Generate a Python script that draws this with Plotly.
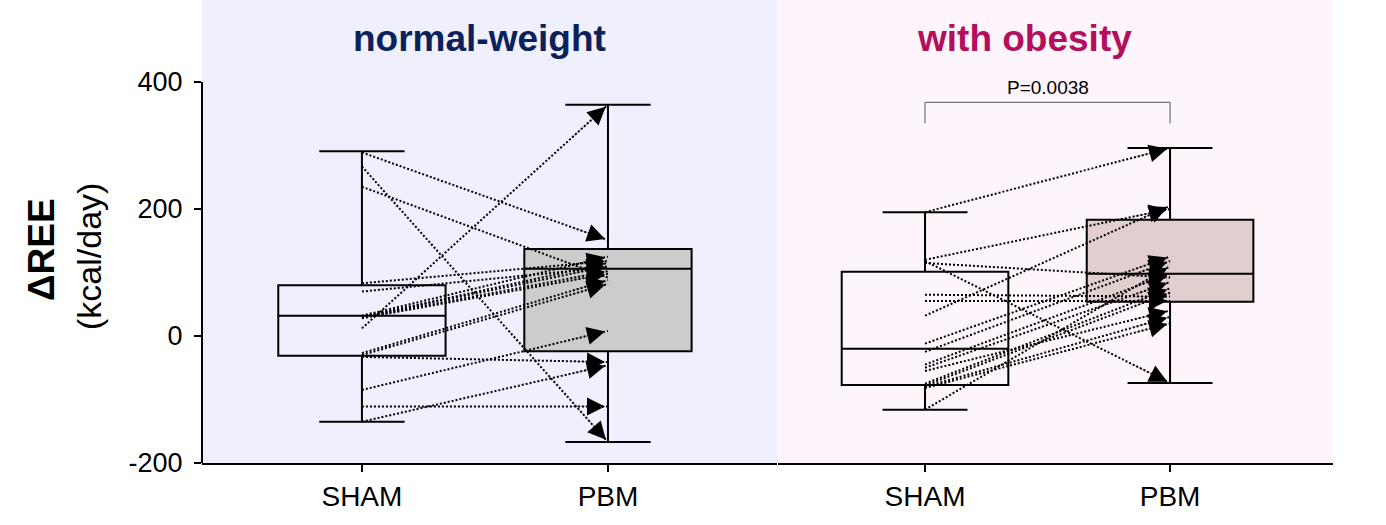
import plotly.graph_objects as go
from plotly.subplots import make_subplots

groups = ["SHAM", "PBM"]
panel_titles = ["normal-weight", "with obesity"]
title_colors = ["#0B2159", "#B3105C"]

# paired individual values (kcal/day): SHAM -> PBM
nw_sham = [289, 267, 235, 83, 70, 32, 30, 30, 29, 28, 12, -27, -30, -33, -85, -111, -135]
nw_pbm = [151, -167, 92, 118, 108, 125, 115, 110, 102, 98, 364, 88, 82, -41, 8, -111, -46]

ob_sham = [195, 120, 118, 115, 65, 55, 32, -12, -25, -45, -50, -55, -75, -78, -80, -82, -116]
ob_pbm = [296, 200, -74, 92, 62, 55, 205, 125, 118, 98, 85, 40, 75, 68, 30, 20, 110]

# box summaries [SHAM, PBM]
nw_q1 = [-31, -24]
nw_med = [32, 106]
nw_q3 = [80, 137]
nw_lo = [-135, -167]
nw_hi = [291, 364]

ob_q1 = [-77, 54]
ob_med = [-20, 98]
ob_q3 = [101, 183]
ob_lo = [-116, -74]
ob_hi = [195, 296]

p_text = "P=0.0038"
bracket_top = 368
bracket_foot = 335

y_ticks = [-200, 0, 200, 400]
y_tick_labels = ["-200", "0", "200", "400"]

FONT = "Liberation Sans, Arial, sans-serif"
W, H = 1386, 525
ML, MR, MT, MB = 202, 53, 0, 62
PW = W - ML - MR
PH = H - MT - MB

fig = make_subplots(rows=1, cols=2)

box_fills = [["rgba(0,0,0,0)", "#CCCCCC"], ["rgba(0,0,0,0)", "#E1CECE"]]
stats = [
    (nw_q1, nw_med, nw_q3, nw_lo, nw_hi),
    (ob_q1, ob_med, ob_q3, ob_lo, ob_hi),
]
pairs = [(nw_sham, nw_pbm), (ob_sham, ob_pbm)]

for c in range(2):
    q1, med, q3, lo, hi = stats[c]
    for g in range(2):
        fig.add_trace(
            go.Box(
                x=[g], q1=[q1[g]], median=[med[g]], q3=[q3[g]],
                lowerfence=[lo[g]], upperfence=[hi[g]],
                width=0.68, whiskerwidth=0.51,
                line=dict(color="black", width=2),
                fillcolor=box_fills[c][g],
                boxpoints=False, showlegend=False, hoverinfo="skip",
            ),
            row=1, col=c + 1,
        )
    sham, pbm = pairs[c]
    xs, ys = [], []
    for s, p in zip(sham, pbm):
        xs += [0, 1, None]
        ys += [s, p, None]
    fig.add_trace(
        go.Scatter(
            x=xs, y=ys, mode="lines",
            line=dict(color="black", width=2, dash="2px,2px"),
            showlegend=False, hoverinfo="skip",
        ),
        row=1, col=c + 1,
    )
    xr = "x" if c == 0 else "x2"
    yr = "y" if c == 0 else "y2"
    t = 0.85
    for s, p in zip(sham, pbm):
        fig.add_annotation(
            x=1, y=p, ax=t, ay=s + (p - s) * t,
            xref=xr, yref=yr, axref=xr, ayref=yr,
            text="", showarrow=True, arrowhead=2, arrowsize=12,
            arrowwidth=0.3, arrowcolor="black", standoff=3,
        )

# panel backgrounds
fig.add_shape(type="rect", xref="x domain", yref="y domain", x0=0, x1=1, y0=0, y1=1,
              fillcolor="#EFEFFD", line_width=0, layer="below")
fig.add_shape(type="rect", xref="x2 domain", yref="y2 domain", x0=0, x1=1, y0=0, y1=1,
              fillcolor="#FEF4FC", line_width=0, layer="below")

# y axis line (only over tick range)
fig.add_shape(type="line", xref="x domain", yref="y", x0=0, x1=0,
              y0=min(y_ticks), y1=max(y_ticks), line=dict(color="black", width=2))

# significance bracket
fig.add_shape(type="path", xref="x2", yref="y2",
              path=f"M 0,{bracket_foot} L 0,{bracket_top} L 1,{bracket_top} L 1,{bracket_foot}",
              line=dict(color="#555555", width=1))
fig.add_annotation(x=0.5, y=bracket_top, xref="x2", yref="y2", text=p_text,
                   showarrow=False, xanchor="center", yanchor="bottom", yshift=2,
                   font=dict(family=FONT, size=19, color="black"))

# panel titles
for c, (txt, col) in enumerate(zip(panel_titles, title_colors)):
    xd = "x domain" if c == 0 else "x2 domain"
    xc = 0.483 if c == 0 else 0.445
    fig.add_annotation(x=xc, y=(PH - 38) / PH, xref=xd, yref="paper",
                       xanchor="center", yanchor="middle",
                       text=f"<b>{txt}</b>", showarrow=False,
                       font=dict(family=FONT, size=37, color=col))

# y axis title
fig.add_annotation(x=(41 - ML) / PW, y=(PH - 250) / PH, xref="paper", yref="paper",
                   xanchor="center", yanchor="middle",
                   text="<b>ΔREE</b>", textangle=-90, showarrow=False,
                   font=dict(family=FONT, size=37, color="black"))
fig.add_annotation(x=(89 - ML) / PW, y=(PH - 257) / PH, xref="paper", yref="paper",
                   xanchor="center", yanchor="middle",
                   text="(kcal/day)", textangle=-90, showarrow=False,
                   font=dict(family=FONT, size=34, color="black"))

xaxis_common = dict(
    tickvals=[0, 1], ticktext=groups, showline=True, linecolor="black", linewidth=2,
    ticks="outside", ticklen=7, tickwidth=2, tickcolor="black",
    showgrid=False, zeroline=False,
    tickfont=dict(family=FONT, size=28, color="black"),
)
fig.update_layout(
    xaxis=dict(domain=[0, 575 / PW], range=[-0.65, 1.687], **xaxis_common),
    xaxis2=dict(domain=[576 / PW, 1], range=[-0.6, 1.665], **xaxis_common),
    yaxis=dict(range=[-200, 529.1], tickvals=y_ticks, ticktext=y_tick_labels,
               showline=False, ticks="outside",
               ticklen=7, tickwidth=2, tickcolor="black", showgrid=False, zeroline=False,
               tickfont=dict(family=FONT, size=27, color="black"), ticklabelstandoff=6),
    yaxis2=dict(range=[-200, 529.1], showticklabels=False, ticks="", showline=False,
                showgrid=False, zeroline=False),
    width=W, height=H,
    margin=dict(l=ML, r=MR, t=MT, b=MB),
    paper_bgcolor="white", plot_bgcolor="white",
    showlegend=False,
    font=dict(family=FONT),
)

fig.write_html(
    "out.html",
    config={"displayModeBar": False, "staticPlot": True},
    post_script="document.body.style.margin='0';document.body.style.overflow='hidden';",
)
